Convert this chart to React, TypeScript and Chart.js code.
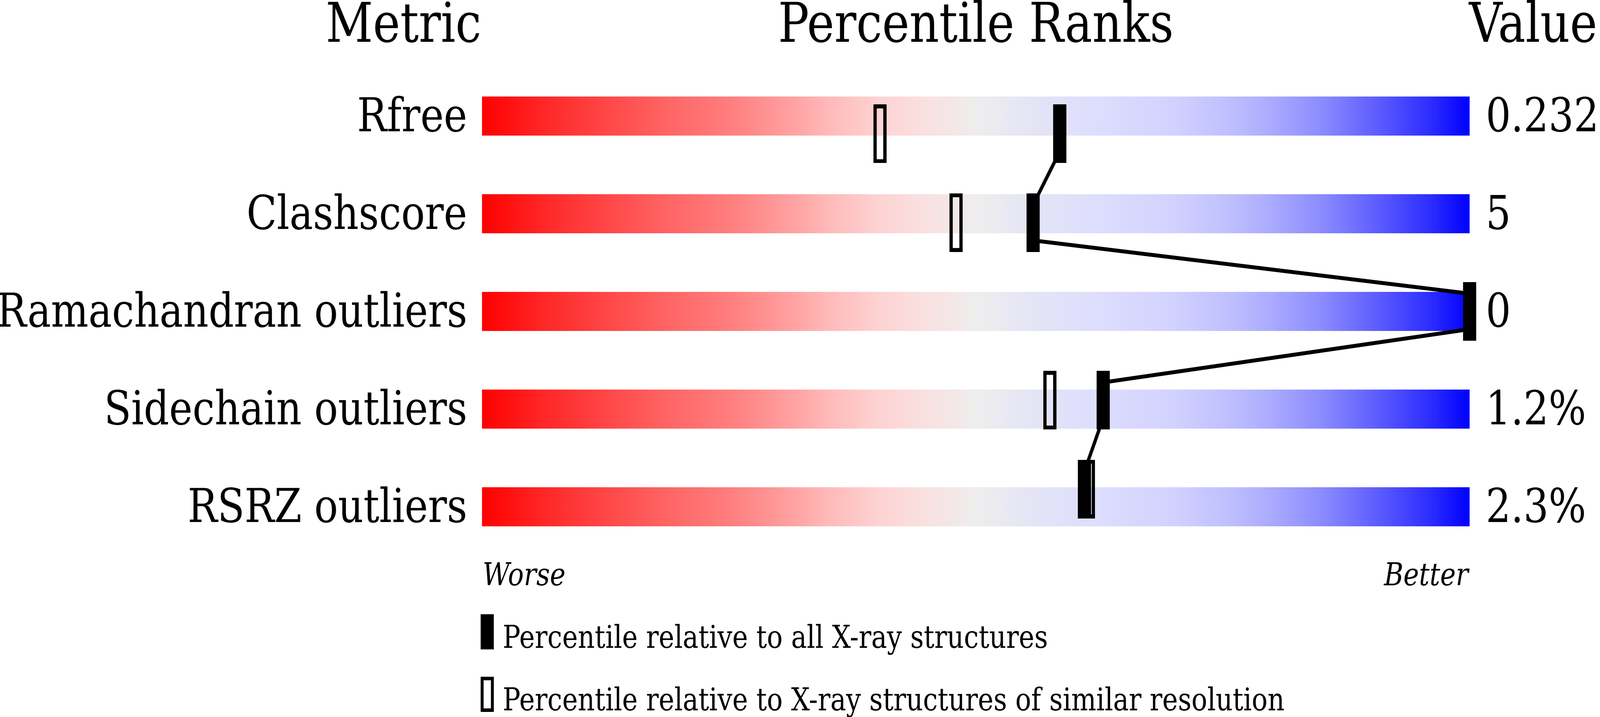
import React, { useEffect, useRef } from "react";
import { Chart, registerables } from "chart.js";

Chart.register(...registerables);

// ---- data ----
const metrics = ["Rfree", "Clashscore", "Ramachandran outliers", "Sidechain outliers", "RSRZ outliers"];
const valueLabels = ["0.232", "5", "0", "1.2%", "2.3%"];
const percentileAll = [58.5, 55.8, 100, 62.9, 61.0];
const percentileSimilar = [40.3, 48.0, 100, 57.5, 61.4];
const scaleRange: [number, number] = [0, 100];
const headers = ["Metric", "Percentile Ranks", "Value"];
const scaleEnds = ["Worse", "Better"];
const legendLabels = [
  "Percentile relative to all X-ray structures",
  "Percentile relative to X-ray structures of similar resolution",
];

// ---- style ----
const W = 4860;
const H = 1835;
const FONT = "'DejaVu Serif', 'Liberation Serif', serif";
const BAR_FRACTION = 0.4; // bar thickness relative to row
const gradientStops: [number, string][] = [
  [0, "rgb(255,0,0)"],
  [0.064, "rgb(255,40,40)"],
  [0.128, "rgb(255,72,72)"],
  [0.19, "rgb(255,102,102)"],
  [0.255, "rgb(255,128,128)"],
  [0.32, "rgb(255,165,165)"],
  [0.35, "rgb(255,185,185)"],
  [0.4, "rgb(254,210,210)"],
  [0.446, "rgb(250,224,224)"],
  [0.48, "rgb(243,232,232)"],
  [0.5, "rgb(238,238,238)"],
  [0.56, "rgb(228,228,246)"],
  [0.62, "rgb(222,222,254)"],
  [0.7, "rgb(210,210,255)"],
  [0.76, "rgb(190,190,255)"],
  [0.8, "rgb(170,170,255)"],
  [0.85, "rgb(140,140,255)"],
  [0.91, "rgb(90,90,255)"],
  [0.96, "rgb(45,45,255)"],
  [1, "rgb(0,0,255)"],
];

function makeMarker(filled: boolean, w: number, h: number, border: number) {
  const c = document.createElement("canvas");
  c.width = w;
  c.height = h;
  const g = c.getContext("2d")!;
  g.fillStyle = "#000";
  if (filled) {
    g.fillRect(0, 0, w, h);
  } else {
    g.fillRect(0, 0, w, border);
    g.fillRect(0, h - border, w, border);
    g.fillRect(0, 0, border, h);
    g.fillRect(w - border, 0, border, h);
  }
  return c;
}

const textPlugin = {
  id: "sliderText",
  afterDraw(chart: any) {
    const ctx = chart.ctx as CanvasRenderingContext2D;
    const xs = chart.scales.x;
    const area = chart.chartArea;
    const left = xs.getPixelForValue(scaleRange[0]);
    const right = xs.getPixelForValue(scaleRange[1]);
    ctx.save();
    ctx.fillStyle = "#000";
    ctx.textBaseline = "alphabetic";
    // headers
    ctx.font = `140px ${FONT}`;
    const hy = area.top - 65;
    ctx.textAlign = "right";
    ctx.fillText(headers[0], left - 2, hy);
    ctx.textAlign = "center";
    ctx.fillText(headers[1], (left + right) / 2, hy);
    ctx.textAlign = "left";
    ctx.fillText(headers[2], right - 2, hy);
    // worse / better
    ctx.font = `italic 80px ${FONT}`;
    const wy = area.bottom + 76;
    ctx.textAlign = "left";
    ctx.fillText(scaleEnds[0], left + 2, wy);
    ctx.textAlign = "right";
    ctx.fillText(scaleEnds[1], right - 4, wy);
    // legend
    ctx.font = `80px ${FONT}`;
    ctx.textAlign = "left";
    const iconW = 40;
    const iconH = 90;
    const ix = left - 4;
    legendLabels.forEach((lab, k) => {
      const top = area.bottom + 150 + k * 160;
      if (k === 0) {
        ctx.fillRect(ix, top, iconW, iconH);
      } else {
        const b = 9;
        ctx.fillRect(ix, top, iconW, b);
        ctx.fillRect(ix, top + iconH - b, iconW, b);
        ctx.fillRect(ix, top, b, iconH);
        ctx.fillRect(ix + iconW - b, top, b, iconH);
      }
      ctx.fillText(lab, left + 63, top + 86);
    });
    ctx.restore();
  },
};

export default function App() {
  const ref = useRef<HTMLCanvasElement>(null);
  useEffect(() => {
    document.body.style.margin = "0";
    document.body.style.overflow = "hidden";
    const canvas = ref.current!;
    const solid = makeMarker(true, 40, 150, 0);
    const hollow = makeMarker(false, 40, 150, 10);
    const n = metrics.length;
    const half = BAR_FRACTION / 2;
    const link: { x: number; y: number }[] = [];
    percentileAll.forEach((p, i) => {
      if (i > 0) link.push({ x: p, y: i - half });
      if (i < n - 1) link.push({ x: p, y: i + half });
    });

    const chart = new Chart(canvas, {
      type: "bar",
      data: {
        labels: metrics,
        datasets: [
          {
            type: "line",
            label: "all",
            data: percentileAll.map((p, i) => ({ x: p, y: i })),
            xAxisID: "x",
            yAxisID: "y2",
            showLine: false,
            pointStyle: solid as any,
            pointRadius: 5,
            clip: false as any,
            order: 0,
          } as any,
          {
            type: "line",
            label: "link",
            data: link,
            xAxisID: "x",
            yAxisID: "y2",
            borderColor: "#000",
            borderWidth: 10,
            pointRadius: 0,
            fill: false,
            tension: 0,
            borderJoinStyle: "round",
            borderCapStyle: "round",
            clip: false as any,
            order: 1,
          } as any,
          {
            type: "line",
            label: "similar",
            data: percentileSimilar.map((p, i) => ({ x: p, y: i })),
            xAxisID: "x",
            yAxisID: "y2",
            showLine: false,
            pointStyle: hollow as any,
            pointRadius: 5,
            clip: false as any,
            order: 2,
          } as any,
          {
            type: "bar",
            label: "scale",
            data: metrics.map(() => [scaleRange[0], scaleRange[1]]),
            xAxisID: "x",
            yAxisID: "y",
            backgroundColor: (c: any) => {
              const ch = c.chart;
              const xs = ch.scales.x;
              if (!xs || !ch.chartArea) return "#ddd";
              const x0 = xs.getPixelForValue(scaleRange[0]);
              const x1 = xs.getPixelForValue(scaleRange[1]);
              const g = ch.ctx.createLinearGradient(x0, 0, x1, 0);
              gradientStops.forEach(([o, col]) => g.addColorStop(o, col));
              return g;
            },
            borderWidth: 0,
            barPercentage: BAR_FRACTION,
            categoryPercentage: 1,
            grouped: false,
            order: 3,
          } as any,
        ],
      },
      options: {
        indexAxis: "y",
        animation: false,
        responsive: false,
        devicePixelRatio: 1,
        events: [],
        layout: { padding: { top: 172, bottom: 413, left: 0, right: 0 } },
        plugins: {
          legend: { display: false },
          tooltip: { enabled: false },
          title: { display: false },
        },
        scales: {
          x: { type: "linear", min: scaleRange[0], max: scaleRange[1], display: false },
          y: {
            type: "category",
            position: "left",
            offset: true,
            grid: { display: false, drawTicks: false },
            border: { display: false },
            ticks: { color: "#000", padding: 45, labelOffset: 8, font: { family: FONT, size: 120 } },
            afterFit: (s: any) => {
              s.width = 1464;
            },
          },
          yR: {
            type: "category",
            axis: "y",
            position: "right",
            offset: true,
            labels: valueLabels,
            grid: { display: false, drawTicks: false },
            border: { display: false },
            ticks: { color: "#000", padding: 49, labelOffset: 8, font: { family: FONT, size: 120 } },
            afterFit: (s: any) => {
              s.width = 396;
            },
          },
          y2: {
            type: "linear",
            axis: "y",
            position: "left",
            min: -0.5,
            max: metrics.length - 0.5,
            reverse: true,
            display: false,
          },
        },
      } as any,
      plugins: [textPlugin],
    });
    return () => chart.destroy();
  }, []);
  return (
    <canvas
      ref={ref}
      width={W}
      height={H}
      style={{ display: "block", width: "100vw", height: "100vh" }}
    />
  );
}
